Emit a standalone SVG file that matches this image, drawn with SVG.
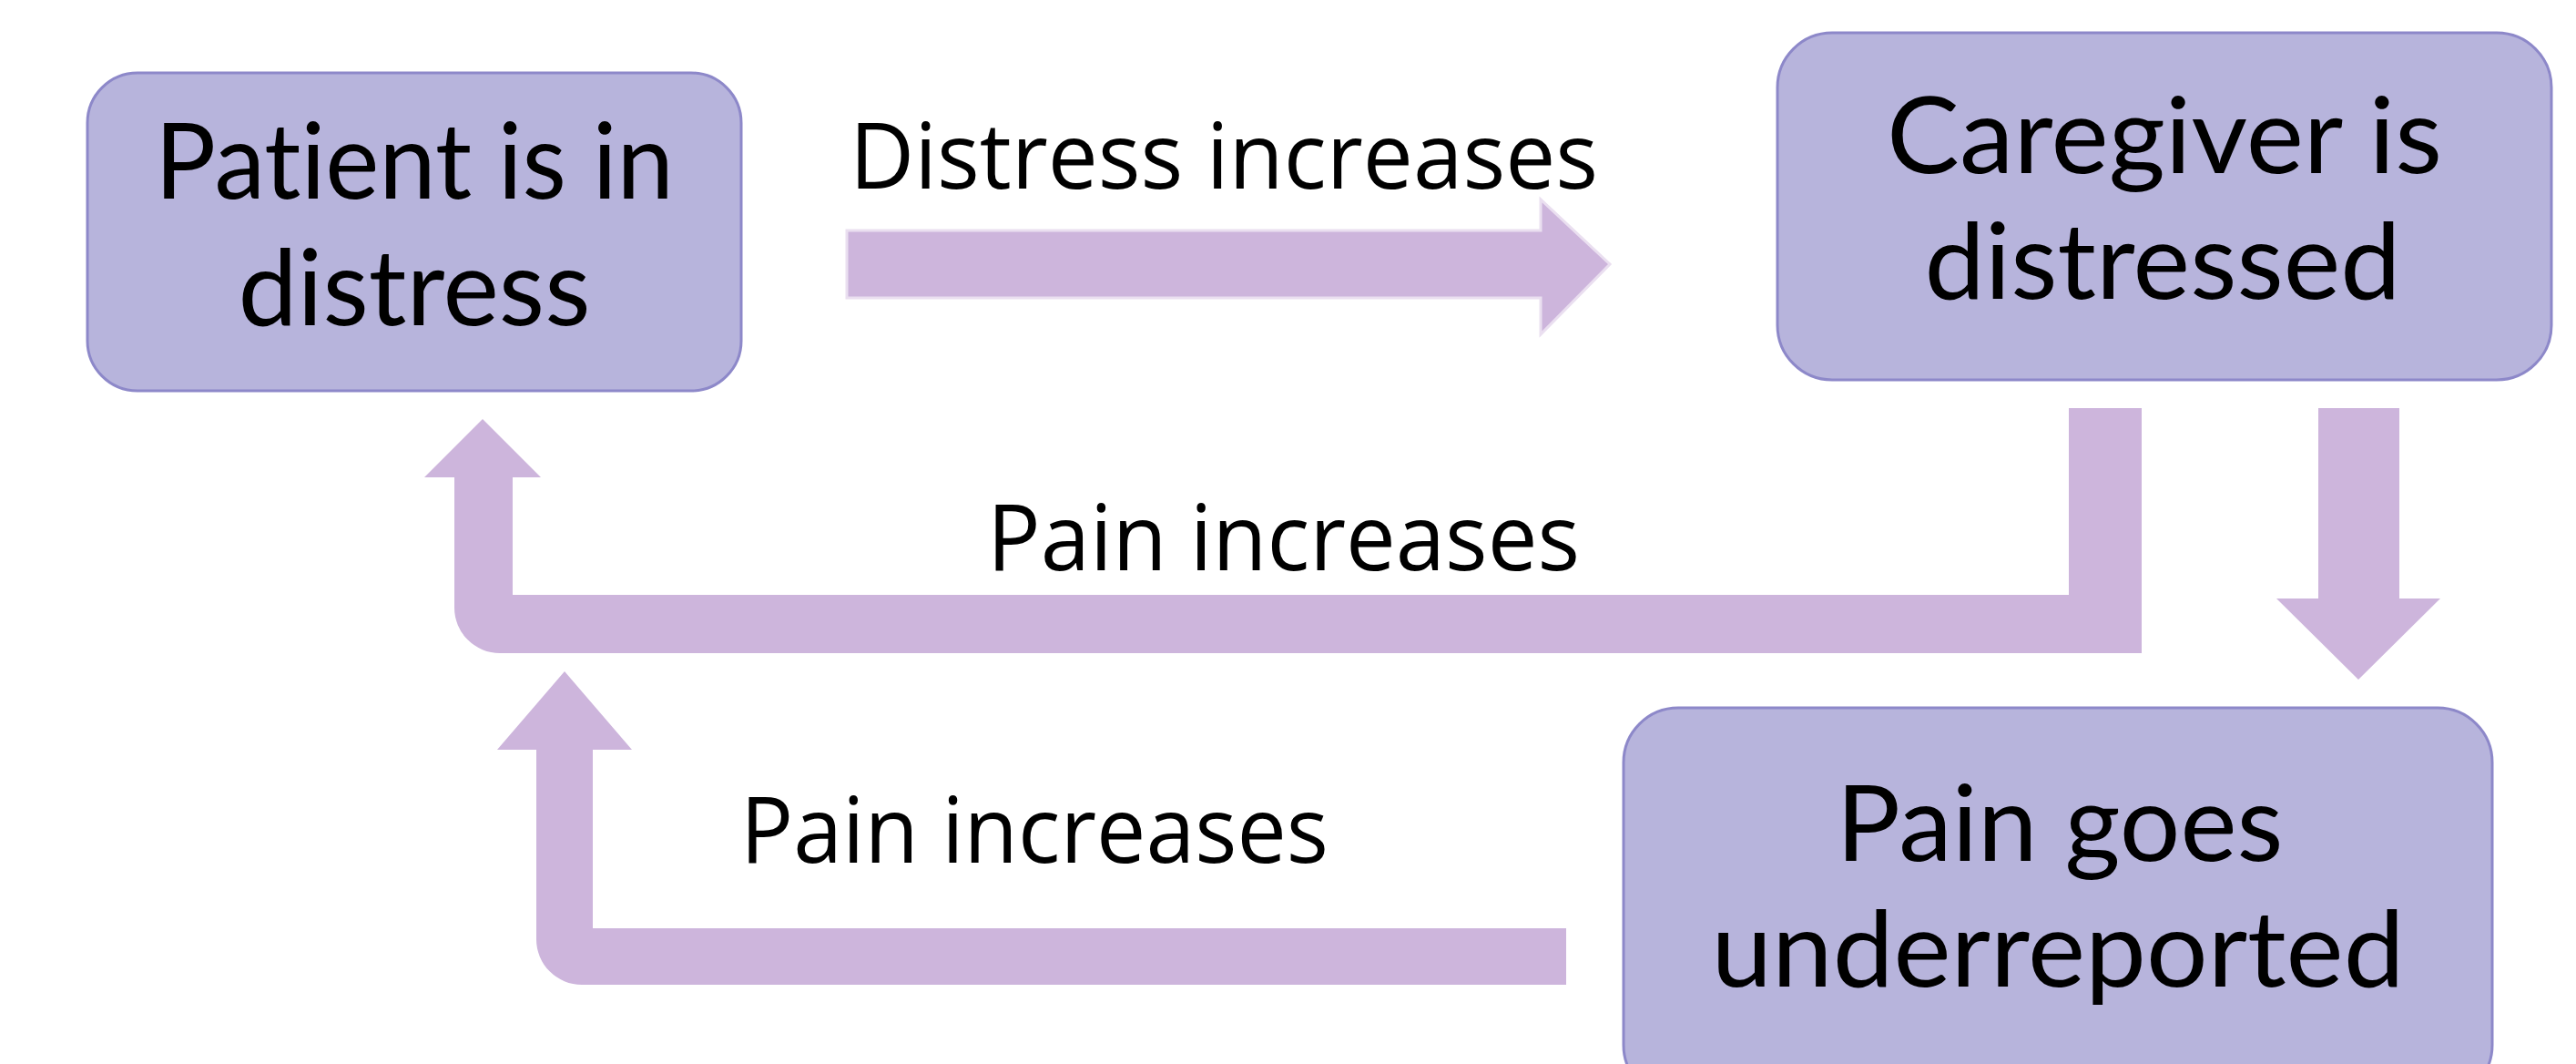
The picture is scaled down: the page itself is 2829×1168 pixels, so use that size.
<svg xmlns="http://www.w3.org/2000/svg" width="2829" height="1168" viewBox="0 0 2829 1168">
<style>
.node{fill:#B7B4DC;stroke:#8D88C9;stroke-width:3}
.nt{font-family:Lato,"Noto Sans",sans-serif;font-size:116px;fill:#000;text-anchor:middle;font-variant-ligatures:none}
.lab{font-family:"Open Sans","Liberation Sans",sans-serif;font-size:100px;fill:#000}
.arr{fill:#CDB5DC}
.arr1{fill:#CDB5DC;stroke:#EADFF0;stroke-width:3}
</style>
<rect width="2829" height="1168" fill="#FFFFFF"/>
<g id="connectors">
<path class="arr1" d="M930,253 L1692,253 L1692,219 L1768,290 L1692,367 L1692,327 L930,327 Z"/>
<path class="arr" d="M2272,448 L2352,448 L2352,717 L549,717 A50,50 0 0 1 499,667 L499,524 L466,524 L530,460 L594,524 L563,524 L563,653 L2272,653 Z"/>
<path class="arr" d="M1720,1019 L1720,1081 L639,1081 A50,50 0 0 1 589,1031 L589,823 L546,823 L620,737 L694,823 L651,823 L651,1019 Z"/>
<path class="arr" d="M2546,448 L2635,448 L2635,657 L2680,657 L2590,746 L2500,657 L2546,657 Z"/>
<text class="lab" x="933" y="207" textLength="822" lengthAdjust="spacingAndGlyphs">Distress increases</text>
<text class="lab" x="1084" y="626" textLength="651" lengthAdjust="spacingAndGlyphs">Pain increases</text>
<text class="lab" x="813" y="947" textLength="646" lengthAdjust="spacingAndGlyphs">Pain increases</text>
</g>
<g id="node-patient">
<rect class="node" x="96" y="80" width="718" height="349" rx="55"/>
<text class="nt" x="455" y="218" textLength="570" lengthAdjust="spacingAndGlyphs">Patient is in</text>
<text class="nt" x="455" y="357" textLength="387" lengthAdjust="spacingAndGlyphs">distress</text>
</g>
<g id="node-caregiver">
<rect class="node" x="1952" y="36" width="850" height="381" rx="60"/>
<text class="nt" x="2377" y="190" textLength="610" lengthAdjust="spacingAndGlyphs">Caregiver is</text>
<text class="nt" x="2375" y="328" textLength="523" lengthAdjust="spacingAndGlyphs">distressed</text>
</g>
<g id="node-pain">
<rect class="node" x="1783" y="777" width="954" height="430" rx="60"/>
<text class="nt" x="2262" y="945" textLength="491" lengthAdjust="spacingAndGlyphs">Pain goes</text>
<text class="nt" x="2260" y="1083" textLength="761" lengthAdjust="spacingAndGlyphs">underreported</text>
</g>
</svg>
